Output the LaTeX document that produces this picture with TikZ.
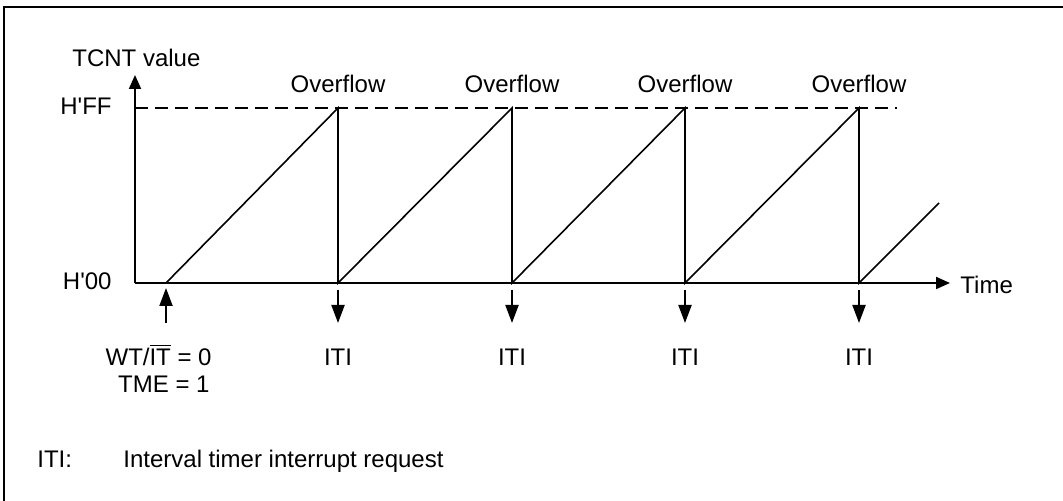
\documentclass[tikz,border=0pt]{standalone}
\usepackage{fontspec}
\newfontfamily\labfont{Liberation Sans}
\usetikzlibrary{arrows.meta,positioning}
\tikzset{
  lbl/.style={font=\labfont\fontsize{12}{14}\selectfont,inner sep=0pt},
  axis/.style={line width=1pt,-{Triangle[length=7pt,width=6pt]}},
  ramp/.style={line width=0.8pt},
  ev/.style={line width=1pt,-{Triangle[length=9pt,width=6.5pt]}},
  lvl/.style={line width=0.8pt,dash pattern=on 6.5pt off 3.5pt},
}

\begin{document}
\begin{tikzpicture}[x=0.5pt,y=-0.5pt]
\useasboundingbox (0,0) rectangle (1063,501);
% frame (open to the right and bottom)
\coordinate (fl) at (4,501); \coordinate (fc) at (4,7); \coordinate (fr) at (1063,7);
\draw[line width=1pt] (fl) -- (fc) -- (fr);
% axes
\coordinate (o) at (135,283);
\coordinate (ytip) at (135,75);
\coordinate (xtip) at (950,283);
\coordinate (hff) at (135,108);
\coordinate (hffend) at (897,108);
\draw[axis] (o) -- (ytip);
\draw[axis] (o) -- (xtip);
\draw[lvl] (hff) -- (hffend);
\node[lbl,anchor=base west] (ylab) at (72,67) {TCNT value};
\node[lbl,anchor=base east] (ffl) at (112,115) {H'FF};
\node[lbl,anchor=base east] (zzl) at (112,290) {H'00};
\node[lbl,anchor=base west] (tlab) at (960,294) {Time};
% counter ramps
\coordinate (s) at (166,283);
\coordinate (tail) at (939,203);
\foreach \i/\x in {1/338,2/512,3/685,4/859}{
  \coordinate (top\i) at (\x,108);
  \coordinate (bot\i) at (\x,283);
  \coordinate (d\i) at (\x,290);
  \coordinate (e\i) at (\x,323);
  \node[lbl,anchor=base] (ovf\i) at (\x,93) {Overflow};
  \node[lbl,anchor=base] (iti\i) at (\x,365) {ITI};
  \draw[ev] (d\i) -- (e\i);
}
\draw[ramp] (s) -- (top1) -- (bot1) -- (top2) -- (bot2) -- (top3) -- (bot3) -- (top4) -- (bot4) -- (tail);
% start condition
\coordinate (u0) at (166,323); \coordinate (u1) at (166,288);
\draw[ev] (u0) -- (u1);
\node[lbl,anchor=base east] (wt) at (212,365) {WT/$\overline{\mbox{IT}}$ = 0};
\node[lbl,anchor=base east] (tme) at (210,393) {TME = 1};
% key
\node[lbl,anchor=base west] (key) at (37,467) {ITI:};
\node[lbl,anchor=base west] (keytxt) at (123,467) {Interval timer interrupt request};
\end{tikzpicture}
\end{document}
